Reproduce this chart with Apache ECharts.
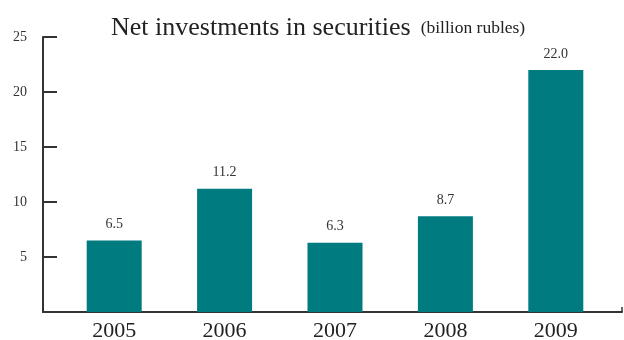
<!DOCTYPE html>
<html>
<head>
<meta charset="utf-8">
<style>html,body{margin:0;padding:0;background:#fff}#c{width:624px;height:340px}</style>
<script src="https://cdn.jsdelivr.net/npm/echarts@6/dist/echarts.min.js"></script>
</head>
<body>
<div id="c"></div>
<script>
const years = ['2005', '2006', '2007', '2008', '2009'];
const investments = [6.5, 11.2, 6.3, 8.7, 22.0];
const yTicks = [0, 5, 10, 15, 20, 25];

const FONT = '"Liberation Serif", "DejaVu Serif", serif';
const chart = echarts.init(document.getElementById('c'), null, { renderer: 'canvas' });

chart.setOption({
  animation: false,
  title: {
    text: '{a|Net investments in securities}  {b|(billion rubles)}',
    left: 106,
    top: 8,
    textStyle: {
      rich: {
        a: { fontFamily: FONT, fontSize: 26, fontWeight: 'normal', color: '#222', lineHeight: 30 },
        b: { fontFamily: FONT, fontSize: 17.5, fontWeight: 'normal', color: '#222', lineHeight: 30,
             verticalAlign: 'bottom', padding: [0, 0, 6, 0] }
      }
    }
  },
  grid: [
    { left: 43, right: 2, top: 37, bottom: 28, outerBoundsMode: 'none', containLabel: false },
    { left: 59, right: 13, top: 37, bottom: 28, outerBoundsMode: 'none', containLabel: false }
  ],
  xAxis: [
    {
      gridIndex: 0, type: 'value', min: 0, max: 1, interval: 1,
      axisLine: { show: true, lineStyle: { color: '#333', width: 2 } },
      axisTick: { show: true, inside: true, length: 5, lineStyle: { color: '#333', width: 1.5 } },
      axisLabel: { show: false }, splitLine: { show: false }
    },
    {
      gridIndex: 1, type: 'category', data: years,
      axisLine: { show: false }, axisTick: { show: false },
      axisLabel: { fontFamily: FONT, fontSize: 22, color: '#222', margin: 8 }
    }
  ],
  yAxis: [
    {
      gridIndex: 0, type: 'value', min: yTicks[0], max: yTicks[yTicks.length - 1], interval: 5,
      axisLine: { show: true, lineStyle: { color: '#333', width: 2 } },
      axisTick: { show: true, inside: true, length: 14, lineStyle: { color: '#333', width: 2 } },
      axisLabel: {
        fontFamily: FONT, fontSize: 14, color: '#333', margin: 16,
        formatter: v => (v === 0 ? '' : String(v))
      },
      splitLine: { show: false }
    },
    {
      gridIndex: 1, type: 'value', min: yTicks[0], max: yTicks[yTicks.length - 1],
      show: false
    }
  ],
  series: [
    {
      type: 'bar', xAxisIndex: 1, yAxisIndex: 1,
      data: investments,
      barWidth: 55,
      itemStyle: { color: '#007b80' },
      label: {
        show: true, position: 'top', distance: 9,
        fontFamily: FONT, fontSize: 14, color: '#333',
        formatter: p => p.value.toFixed(1)
      }
    }
  ]
});
</script>
</body>
</html>
